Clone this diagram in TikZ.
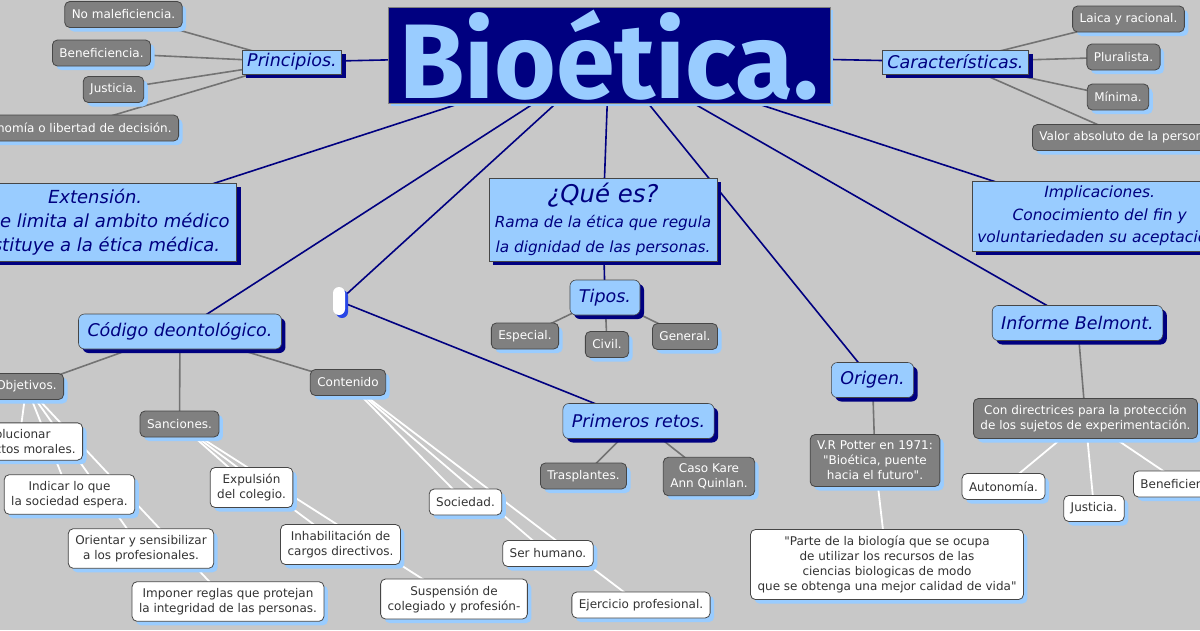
\documentclass[tikz,border=0pt]{standalone}
\usepackage{fontspec}
\setmainfont{DejaVu Sans}[ItalicFont={DejaVu Sans Oblique}]
\newfontfamily\titlefont{Fira Sans}
\newfontfamily\qfont{DejaVu Sans}
\usetikzlibrary{shadows}
\pgfdeclarelayer{back}
\pgfdeclarelayer{edges}
\pgfsetlayers{back,edges,main}

\definecolor{bgcol}{RGB}{200,200,200}
\definecolor{navy}{RGB}{0,0,128}
\definecolor{skyblue}{RGB}{153,204,255}
\definecolor{leafgray}{RGB}{128,128,128}
\definecolor{edgegray}{RGB}{70,70,70}
\definecolor{linegray}{RGB}{115,115,115}
\definecolor{pillblue}{RGB}{40,70,230}

\newcommand{\qmark}{{\qfont\symbol{34}}}

\tikzset{
  leaf/.style={draw=edgegray, line width=0.8pt, rounded corners=5pt,
    fill=leafgray, text=white, align=center,
    font=\fontsize{12}{15}\selectfont, inner xsep=7pt, inner ysep=6.5pt,
    minimum height=26pt,
    drop shadow={shadow xshift=4pt, shadow yshift=-4pt, fill=skyblue, opacity=1}},
  wleaf/.style={leaf, fill=white, text=black!80},
  concept/.style={draw=edgegray, line width=0.6pt, fill=skyblue, text=navy,
    align=center, font=\itshape\fontsize{17.5}{24}\selectfont,
    inner xsep=5pt, inner ysep=3pt, minimum height=24pt,
    drop shadow={shadow xshift=4pt, shadow yshift=-4pt, fill=navy, opacity=1}},
  rconcept/.style={concept, rounded corners=6pt, inner xsep=9pt, minimum height=35pt},
  navyline/.style={draw=navy, line width=1.6pt},
  grayline/.style={draw=linegray, line width=1.6pt},
  whiteline/.style={draw=white, line width=1.8pt},
}

\begin{document}
\begin{tikzpicture}[x=1pt,y=-1pt]
  \useasboundingbox (0,0) rectangle (1200,630);
  \clip (0,0) rectangle (1200,630);
  \begin{pgfonlayer}{back}
    \fill[bgcol] (0,0) rectangle (1200,630);
  \end{pgfonlayer}

  % main concept
  \node[draw=gray, fill=navy, text=skyblue, inner sep=0pt,
    minimum width=442pt, minimum height=96pt,
    font=\titlefont\bfseries\fontsize{106}{106}\selectfont,
    drop shadow={shadow xshift=3pt, shadow yshift=-3pt, fill=skyblue, opacity=1}]
    (bio) at (609,55) {Bioética.};

  % principios
  \node[concept] (princ) at (292,62) {Principios.};
  \node[leaf] (nomal) at (123.5,14.5) {No maleficiencia.};
  \node[leaf] (benef) at (101.5,53) {Beneficiencia.};
  \node[leaf] (justa) at (113.5,89.5) {Justicia.};
  \node[leaf, anchor=east] (auton) at (179,128) {Autonomía o libertad de decisión.};

  % caracteristicas
  \node[concept] (caract) at (955.5,62) {Características.};
  \node[leaf] (laica) at (1128.5,19) {Laica y racional.};
  \node[leaf] (plural) at (1123.5,57) {Pluralista.};
  \node[leaf] (minima) at (1118,97) {Mínima.};
  \node[leaf, anchor=west] (valor) at (1032,137.5) {Valor absoluto de la persona.};

  \node[concept, anchor=east, font=\itshape\fontsize{18}{24}\selectfont, inner xsep=7pt, inner ysep=6pt]
    (exten) at (237,222) {Extensión.\\No se limita al ambito médico\\Sustituye a la ética médica.};

  \node[concept, font=\itshape\fontsize{15.3}{25}\selectfont, inner xsep=6pt, inner ysep=5pt]
    (quees) at (603,219.5) {{\fontsize{24.4}{26}\selectfont ¿Qué es?}\\Rama de la ética que regula\\la dignidad de las personas.};
  \node[rconcept] (tipos) at (605,297.5) {Tipos.};
  \node[leaf] (espec) at (525,336) {Especial.};
  \node[leaf] (civil) at (607,344.5) {Civil.};
  \node[leaf] (gener) at (685,336.5) {General.};

  \node[concept, anchor=west, font=\itshape\fontsize{15.5}{22.5}\selectfont, inner ysep=5pt]
    (implic) at (972,216) {Implicaciones.\\Conocimiento del fin y\\voluntariedaden su aceptación.};

  % codigo deontologico
  \node[rconcept] (codigo) at (180,331.5) {Código deontológico.};
  \node[leaf, anchor=east] (objet) at (64,386.5) {Objetivos.};
  \node[leaf] (sanc) at (179.5,424) {Sanciones.};
  \node[leaf] (conten) at (348,382.5) {Contenido};
  \node[wleaf, anchor=east] (soluc) at (83,441.5) {Solucionar\\conflictos morales.};
  \node[wleaf] (indic) at (69.5,494.5) {Indicar lo que\\la sociedad espera.};
  \node[wleaf] (orient) at (141,548.5) {Orientar y sensibilizar\\a los profesionales.};
  \node[wleaf] (impon) at (228,601.5) {Imponer reglas que protejan\\la integridad de las personas.};
  \node[wleaf] (expul) at (251.5,487.5) {Expulsión\\del colegio.};
  \node[wleaf] (inhab) at (340.5,544.5) {Inhabilitación de\\cargos directivos.};
  \node[wleaf] (susp) at (454,599) {Suspensión de\\colegiado y profesión-};
  \node[wleaf] (socied) at (465.5,502) {Sociedad.};
  \node[wleaf] (serhum) at (548,553.5) {Ser humano.};
  \node[wleaf] (ejerc) at (641,605) {Ejercicio profesional.};

  % primeros retos
  \node[fill=white, rounded corners=6pt, minimum width=12pt, minimum height=28pt, inner sep=0pt,
    drop shadow={shadow xshift=3pt, shadow yshift=-3pt, fill=pillblue, opacity=1}]
    (link) at (339,301) {};
  \node[rconcept] (retos) at (638.5,421) {Primeros retos.};
  \node[leaf] (traspl) at (583.5,476) {Trasplantes.};
  \node[leaf] (kare) at (709,476.5) {Caso Kare\\Ann Quinlan.};

  % origen
  \node[rconcept] (origen) at (872.5,380) {Origen.};
  \node[leaf] (potter) at (875,460.5) {V.R Potter en 1971:\\\qmark Bioética, puente\\hacia el futuro\qmark.};
  \node[wleaf] (parte) at (887,564.5) {\qmark Parte de la biología que se ocupa\\de utilizar los recursos de las\\ciencias biologicas de modo\\que se obtenga una mejor calidad de vida\qmark};

  % informe belmont
  \node[rconcept] (belmont) at (1077.5,323) {Informe Belmont.};
  \node[leaf] (condir) at (1085.5,418.5) {Con directrices para la protección\\de los sujetos de experimentación.};
  \node[wleaf] (autonb) at (1003.5,486.5) {Autonomía.};
  \node[wleaf] (justb) at (1094,508.5) {Justicia.};
  \node[wleaf, anchor=west] (benefb) at (1133,484) {Beneficiencia.};

  \begin{pgfonlayer}{edges}
    \foreach \n in {princ,caract,exten,codigo,link,quees,origen,belmont,implic}
      \draw[navyline] (bio.center) -- (\n.center);
    \draw[navyline] (link.center) -- (retos.center);
    \draw[navyline] (quees.center) -- (tipos.center);
    \foreach \n in {nomal,benef,justa,auton} \draw[grayline] (princ.center) -- (\n.center);
    \foreach \n in {laica,plural,minima,valor} \draw[grayline] (caract.center) -- (\n.center);
    \foreach \n in {espec,civil,gener} \draw[grayline] (tipos.center) -- (\n.center);
    \foreach \n in {objet,sanc,conten} \draw[grayline] (codigo.center) -- (\n.center);
    \foreach \n in {traspl,kare} \draw[grayline] (retos.center) -- (\n.center);
    \draw[grayline] (origen.center) -- (potter.center);
    \draw[grayline] (belmont.center) -- (condir.center);
    \foreach \n in {soluc,indic,orient,impon} \draw[whiteline] (objet.center) -- (\n.center);
    \foreach \n in {expul,inhab,susp} \draw[whiteline] (sanc.center) -- (\n.center);
    \foreach \n in {socied,serhum,ejerc} \draw[whiteline] (conten.center) -- (\n.center);
    \draw[whiteline] (potter.center) -- (parte.center);
    \foreach \n in {autonb,justb,benefb} \draw[whiteline] (condir.center) -- (\n.center);
  \end{pgfonlayer}
\end{tikzpicture}
\end{document}
